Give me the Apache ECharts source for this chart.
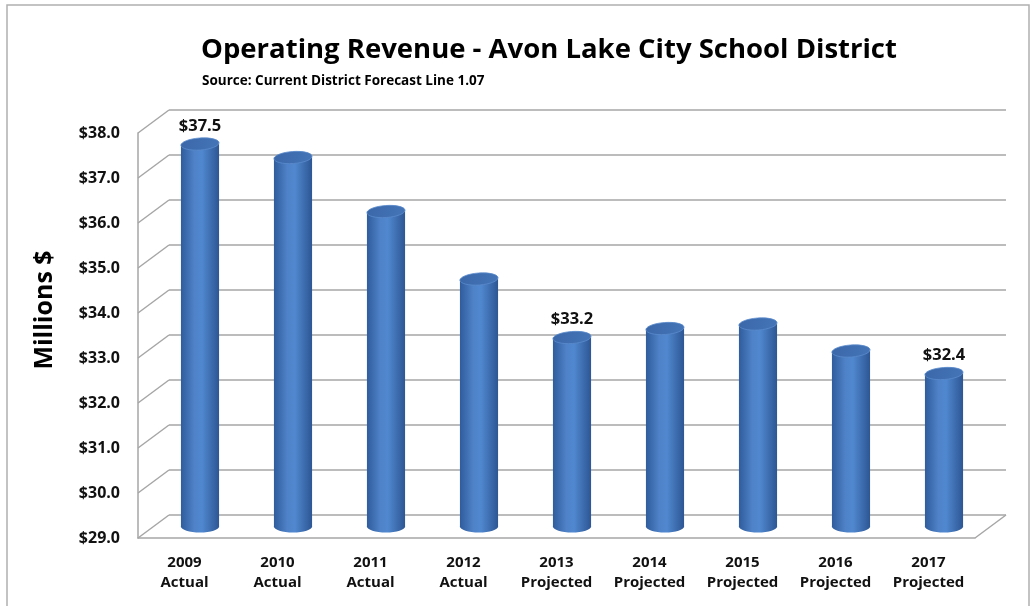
<!DOCTYPE html>
<html>
<head>
<meta charset="utf-8">
<script src="https://cdn.jsdelivr.net/npm/echarts@6/dist/echarts.min.js"></script>
<style>
  html, body { margin: 0; padding: 0; background: #fff; }
  #chart { width: 1036px; height: 606px; }
</style>
</head>
<body>
<div id="chart"></div>
<script>
const categories = [
  "2009\nActual", "2010\nActual", "2011\nActual", "2012\nActual",
  "2013\nProjected", "2014\nProjected", "2015\nProjected", "2016\nProjected", "2017\nProjected"
];
const revenue = [37.5, 37.2, 36.0, 34.5, 33.2, 33.4, 33.5, 32.9, 32.4];
const showLabel = [true, false, false, false, true, false, false, false, true];
const yMin = 29;
const yMax = 38;
const yStep = 1;
const yTicks = [29, 30, 31, 32, 33, 34, 35, 36, 37, 38];

const FONT = "'Open Sans', sans-serif";
// depth offset of the 3d box
const DX = 31;
const DY = 23;

const chart = echarts.init(document.getElementById("chart"));

const wallItem = (params, api) => {
  const v = api.value(1);
  const p = api.coord([0, v]);
  const cs = params.coordSys;
  const left = cs.x;
  const right = cs.x + cs.width;
  const y = p[1];
  const st = { stroke: "#a6a6a6", lineWidth: 1.5 };
  const children = [
    { type: "line", shape: { x1: left, y1: y, x2: left + DX, y2: y - DY }, style: st },
    { type: "line", shape: { x1: left + DX, y1: y - DY, x2: right + DX, y2: y - DY }, style: st },
  ];
  if (v === yMin) {
    children.push({ type: "line", shape: { x1: right, y1: y, x2: right + DX, y2: y - DY }, style: st });
  }
  return { type: "group", children };
};

const barItem = (params, api) => {
  const i = api.value(0);
  const v = api.value(1);
  const top = api.coord([i, v]);
  const base = api.coord([i, yMin]);
  const w = api.size([1, 0])[0] * 0.41;
  const cx = top[0] + DX / 2;
  const ty = top[1] - DY / 2;
  const by = base[1] - DY / 2;
  const ry = 6;
  const bodyFill = new echarts.graphic.LinearGradient(0, 0, 1, 0, [
    { offset: 0, color: "#2f5c9c" },
    { offset: 0.35, color: "#4f82c8" },
    { offset: 0.55, color: "#5088cf" },
    { offset: 1, color: "#2d5694" },
  ]);
  const children = [
    { type: "ellipse", shape: { cx: cx, cy: by, rx: w / 2, ry: ry }, style: { fill: bodyFill } },
    { type: "rect", shape: { x: cx - w / 2, y: ty, width: w, height: by - ty }, style: { fill: bodyFill } },
    {
      type: "ellipse",
      shape: { cx: 0, cy: 0, rx: w / 2, ry: ry },
      x: cx, y: ty, rotation: 0.07,
      style: {
        fill: new echarts.graphic.LinearGradient(0, 0, 1, 1, [
          { offset: 0, color: "#3a67a8" },
          { offset: 1, color: "#4575b8" },
        ]),
        stroke: "#5a8bcc", lineWidth: 0.8,
      },
    },
  ];
  if (showLabel[i]) {
    children.push({
      type: "text",
      x: cx, y: ty - 18,
      style: {
        text: "$" + v.toFixed(1),
        align: "center", verticalAlign: "middle",
        font: "bold 16.5px " + FONT, fill: "#111",
      },
    });
  }
  return { type: "group", children };
};

let option = {
  animation: false,
  title: [
    {
      text: "Operating Revenue - Avon Lake City School District",
      left: 544, top: 31, textAlign: "center",
      textStyle: { fontFamily: FONT, fontWeight: "bold", fontSize: 27.5, color: "#000" },
    },
    {
      text: "Source: Current District Forecast Line 1.07",
      left: 197, top: 69,
      textStyle: { fontFamily: FONT, fontWeight: "bold", fontSize: 13.5, color: "#000" },
    },
  ],
  graphic: [
    { type: "rect", shape: { x: 7, y: 5, width: 1022, height: 640 }, style: { fill: "none", stroke: "#b0b0b0", lineWidth: 1.5 }, z: -1 },
    {
      type: "text", x: 45, y: 310, rotation: Math.PI / 2,
      style: { text: "Millions $", align: "center", verticalAlign: "middle", font: "bold 25px " + FONT, fill: "#000" },
    },
  ],
  grid: { left: 138, right: 61, top: 133, bottom: 68 },
  xAxis: {
    type: "category",
    data: categories,
    axisLine: { show: true, lineStyle: { color: "#a6a6a6", width: 1.5 } },
    axisTick: { show: false },
    axisLabel: { fontFamily: FONT, fontWeight: "bold", fontSize: 15, color: "#111", lineHeight: 20, margin: 15 },
  },
  yAxis: {
    type: "value",
    min: yMin, max: yMax, interval: yStep,
    axisLine: { show: true, lineStyle: { color: "#a6a6a6", width: 1.5 } },
    axisTick: { show: false },
    splitLine: { show: false },
    axisLabel: {
      fontFamily: FONT, fontWeight: "bold", fontSize: 16, color: "#111", margin: 18,
      formatter: (v) => "$" + v.toFixed(1),
    },
  },
  series: [
    {
      type: "custom",
      renderItem: wallItem,
      data: yTicks.map((v) => [0, v]),
      encode: { x: 0, y: 1 },
      z: 1,
      silent: true,
    },
    {
      type: "custom",
      renderItem: barItem,
      data: revenue.map((v, i) => [i, v]),
      encode: { x: 0, y: 1 },
      z: 2,
    },
  ],
};
chart.setOption(option);
</script>
</body>
</html>
